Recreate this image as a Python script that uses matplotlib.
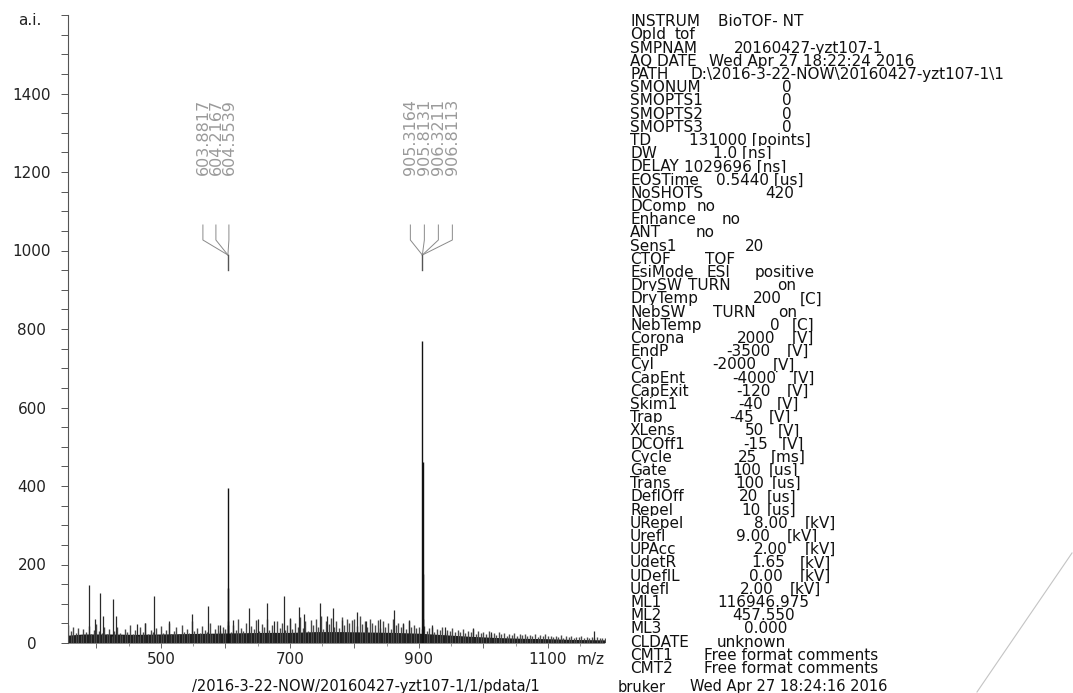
import numpy as np
import matplotlib
matplotlib.use("Agg")
import matplotlib.pyplot as plt
from matplotlib.ticker import MultipleLocator
from matplotlib.transforms import Affine2D
from matplotlib.lines import Line2D

plt.rcParams['font.family'] = ['DejaVu Sans']

# ------------------------------------------------------------------ data
grass_start, grass_step = 356, 4
grass_int = [45, 30, 42, 25, 38, 20, 35, 28, 44, 22, 33,
             48, 30, 26, 40, 22, 35, 18, 30, 42, 25, 20, 36, 28, 45, 24, 32, 19, 40, 27, 50, 23, 34, 29, 38, 21,
             44, 26, 33, 52, 24, 30, 40, 22, 47, 28, 35, 25, 55, 30, 38, 26, 43, 32, 28, 50, 24, 36, 45, 30, 40,
             35, 55, 28, 46, 33, 60, 38, 30, 52, 27, 44, 36, 58, 31, 48, 40, 62, 34, 45, 29, 56, 38, 50, 33, 47,
             60, 36, 52, 42, 65, 38, 55, 30, 58, 46, 62, 40, 68, 35, 57, 48, 64, 42, 55, 38, 66, 45, 60, 50, 58,
             62, 44, 70, 48, 56, 40, 60, 52, 45, 58, 38, 55, 42, 50, 36, 62, 45, 52, 40, 48, 35, 55, 42, 46, 38,
             40, 35, 44, 30, 38, 42, 28, 36, 32, 40, 26, 34, 30, 38, 27, 33, 29, 36, 25, 31, 28, 35, 24, 30, 26,
             28, 24, 30, 22, 26, 20, 27, 23, 25, 19, 24, 21, 26, 18, 22, 20, 24, 17, 21, 19, 23, 16, 20, 18, 22,
             17, 19, 15, 18, 16, 20, 14, 17, 15, 18, 13, 16, 15, 17, 14, 16, 13, 15, 14, 16, 13, 14, 12]

base_mz = [356, 380, 420, 460, 500, 540, 580, 620, 660, 700, 740, 780, 820, 860, 900, 940, 980, 1020, 1060, 1100, 1140, 1188]
base_int = [20, 23, 23, 22, 23, 24, 25, 26, 27, 27, 29, 29, 28, 27, 25, 21, 17, 14, 12, 11, 9, 8]

minor_mz = [388, 398, 405, 410, 426, 431, 463, 476, 490, 512, 548, 573, 592, 612, 636, 650, 664, 676, 691, 700,
            714, 722, 746, 757, 767, 781, 804, 818, 840, 861, 876, 884, 920, 940, 984, 1012, 1172]
minor_int = [148, 62, 127, 70, 112, 68, 48, 52, 120, 55, 75, 93, 45, 58, 88, 62, 102, 55, 119, 64,
             92, 74, 102, 68, 89, 58, 80, 55, 62, 83, 50, 58, 45, 40, 38, 28, 30]

main_mz = [603.8817, 604.2167, 604.5539, 905.3164, 905.8131, 906.3211, 906.8113]
main_int = [395, 140, 45, 770, 462, 175, 60]
label_groups = [[603.8817, 604.2167, 604.5539],
                [905.3164, 905.8131, 906.3211, 906.8113]]

x_ticks = [400, 500, 600, 700, 800, 900, 1000, 1100]
x_ticklabels = ['', '500', '', '700', '', '900', '', '1100']
y_ticks = [0, 200, 400, 600, 800, 1000, 1200, 1400, 1600]
y_ticklabels = ['0', '200', '400', '600', '800', '1000', '1200', '1400', '']

info_keys = ['INSTRUM', 'OpId', 'SMPNAM', 'AQ DATE', 'PATH', 'SMONUM', 'SMOPTS1', 'SMOPTS2', 'SMOPTS3',
             'TD', 'DW', 'DELAY', 'EOSTime', 'NoSHOTS', 'DComp', 'Enhance', 'ANT', 'Sens1', 'CTOF',
             'EsiMode', 'DrySW', 'DryTemp', 'NebSW', 'NebTemp', 'Corona', 'EndP', 'Cyl', 'CapEnt',
             'CapExit', 'Skim1', 'Trap', 'XLens', 'DCOff1', 'Cycle', 'Gate', 'Trans', 'DeflOff', 'Repel',
             'URepel', 'Urefl', 'UPAcc', 'UdetR', 'UDeflL', 'Udefl', 'ML1', 'ML2', 'ML3', 'CLDATE',
             'CMT1', 'CMT2']
info_vals = [['BioTOF- NT'], ['tof'], ['20160427-yzt107-1'], ['Wed Apr 27 18:22:24 2016'],
             ['D:\\2016-3-22-NOW\\20160427-yzt107-1\\1'], ['0'], ['0'], ['0'], ['0'],
             ['131000 [points]'], ['1.0 [ns]'], ['1029696 [ns]'], ['0.5440 [us]'], ['420'],
             ['no'], ['no'], ['no'], ['20'], ['TOF'], ['ESI', 'positive'], ['TURN', 'on'],
             ['200', '[C]'], ['TURN', 'on'], ['0', '[C]'], ['2000', '[V]'], ['-3500', '[V]'],
             ['-2000', '[V]'], ['-4000', '[V]'], ['-120', '[V]'], ['-40', '[V]'], ['-45', '[V]'],
             ['50', '[V]'], ['-15', '[V]'], ['25', '[ms]'], ['100', '[us]'], ['100', '[us]'],
             ['20', '[us]'], ['10', '[us]'], ['8.00', '[kV]'], ['9.00', '[kV]'], ['2.00', '[kV]'],
             ['1.65', '[kV]'], ['0.00', '[kV]'], ['2.00', '[kV]'], ['116946.975'], ['457.550'],
             ['0.000'], ['unknown'], ['Free format comments'], ['Free format comments']]
footer_parts = ['/2016-3-22-NOW/20160427-yzt107-1/1/pdata/1', 'bruker', 'Wed Apr 27 18:24:16 2016']

# ------------------------------------------------------------------ layout
W, H = 1073, 693
fig = plt.figure(figsize=(W / 100, H / 100), dpi=100)
fig.patch.set_facecolor('white')
px = Affine2D().scale(1 / W, -1 / H).translate(0, 1) + fig.transFigure

AX_L, AX_R, AX_T, AX_B = 68, 606, 15, 643
ax = fig.add_axes([AX_L / W, 1 - AX_B / H, (AX_R - AX_L) / W, (AX_B - AX_T) / H])
ax.set_xlim(356, 1190)
ax.set_ylim(0, 1600)
for s in ['top', 'right', 'bottom']:
    ax.spines[s].set_visible(False)
ax.spines['left'].set_color('#555555')
ax.spines['left'].set_linewidth(0.8)

# spectrum
grass_mz = grass_start + grass_step * np.arange(len(grass_int))
ax.vlines(grass_mz, 0, grass_int, color='#4a4a4a', lw=1.0)
ax.fill_between(base_mz, 0, base_int, color='#151515', lw=0)
ax.vlines(minor_mz, 0, minor_int, color='#2a2a2a', lw=0.9)
ax.vlines(main_mz, 0, main_int, color='#111111', lw=1.0)

# ticks
ax.set_yticks(y_ticks)
ax.set_yticklabels(y_ticklabels)
ax.yaxis.set_minor_locator(MultipleLocator(50))
ax.tick_params(axis='y', which='both', direction='out', length=5, width=0.7,
               color='#555555', labelsize=11, labelcolor='#222222', pad=21)
for lab in ax.get_yticklabels():
    lab.set_horizontalalignment('center')
ax.set_xticks(x_ticks)
ax.set_xticklabels(x_ticklabels)
ax.xaxis.set_minor_locator(MultipleLocator(50))
ax.tick_params(axis='x', which='major', direction='out', length=3.6, width=0.7,
               color='#666666', labelsize=11, labelcolor='#222222', pad=3)
ax.tick_params(axis='x', which='minor', direction='out', length=2, width=0.6, color='#888888')

fig.text(577, 652, 'm/z', transform=px, ha='left', va='top', fontsize=11, color='#222222')
fig.text(30, 25, 'a.i.', transform=px, ha='center', va='baseline', fontsize=11, color='#222222')

# peak labels with leader lines
inv = ax.transData.inverted()
def to_data(xp, yp):
    return inv.transform((xp, H - yp))

col_offsets = [[-25, -12, 1], [-12, 2, 16, 30]]
for grp, offs in zip(label_groups, col_offsets):
    anchor = ax.transData.transform((grp[0], 0))[0]
    for mz, dx in zip(grp, offs):
        cx = anchor + dx
        pts = np.array([to_data(cx, 225), to_data(cx, 240), to_data(anchor, 255)])
        ax.plot(pts[:, 0], pts[:, 1], color='#8a8a8a', lw=0.7)
        tx, ty = to_data(cx, 137)
        ax.text(tx, ty, f'{mz:.4f}', rotation=90, ha='center', va='center',
                fontsize=11.5, color='#9a9a9a')
    stub = np.array([to_data(anchor, 255), to_data(anchor, 270)])
    ax.plot(stub[:, 0], stub[:, 1], color='#555555', lw=1.0)

# parameter block
val_x = [[718], [675], [734], [709], [690], [782], [782], [782], [782],
         [689], [713], [684], [716], [765], [697], [722], [696], [745], [705],
         [706, 755], [688, 777], [753, 800], [713, 778], [770, 792], [737, 792],
         [726, 787], [712, 773], [732, 793], [736, 787], [738, 777], [729, 769],
         [745, 778], [743, 782], [738, 771], [732, 769], [735, 772], [739, 767],
         [741, 767], [754, 805], [736, 787], [754, 805], [751, 800], [749, 800],
         [740, 790], [717], [732], [744], [717], [704], [704]]
bb = dict(facecolor='white', edgecolor='none', pad=0)
for i, (k, vals) in enumerate(zip(info_keys, info_vals)):
    yb = 26.2 + 13.2 * i
    fig.text(630, yb, k, transform=px, ha='left', va='baseline', fontsize=11,
             color='#111111', bbox=bb)
    for v, xv in zip(vals, val_x[i]):
        fig.text(xv, yb, v, transform=px, ha='left', va='baseline', fontsize=11,
                 color='#111111', bbox=bb)

for part, xv in zip(footer_parts, [192, 618, 690]):
    fig.text(xv, 691.5, part, transform=px, ha='left', va='baseline', fontsize=10.5,
             color='#111111', bbox=bb)

# faint scan stroke at lower right
fig.add_artist(Line2D([977 / W, 1072 / W], [1 - 692 / H, 1 - 553 / H], color='#c4c4c4', lw=0.8))

fig.savefig('out.png', dpi=100, facecolor='white')
